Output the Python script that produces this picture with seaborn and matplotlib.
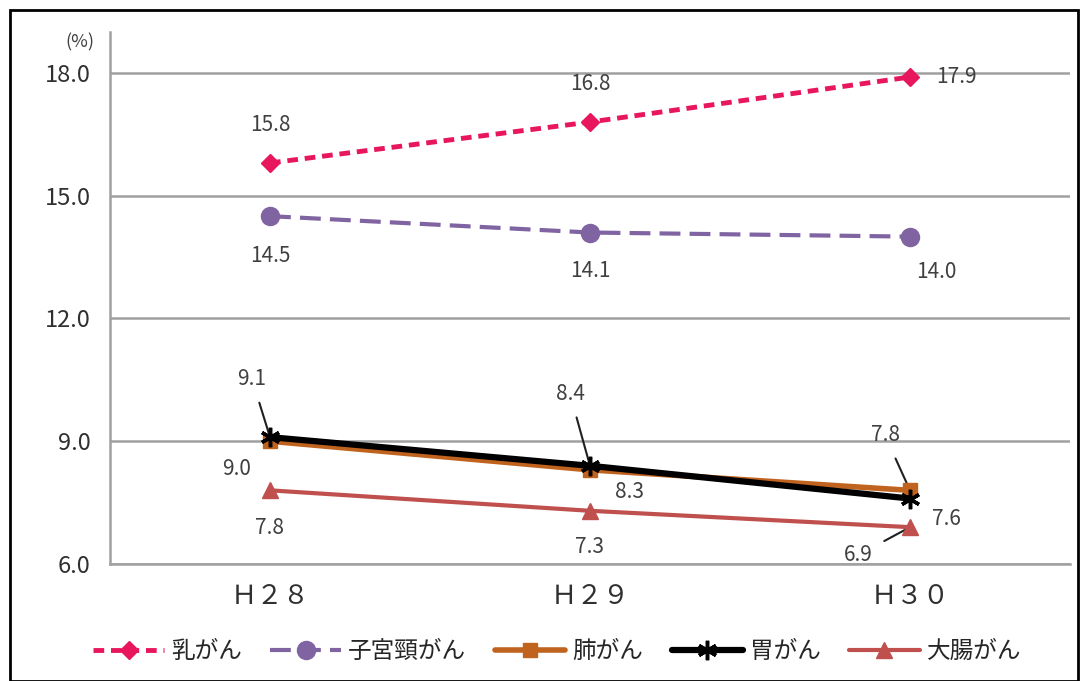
import numpy as np
import pandas as pd
import matplotlib.pyplot as plt
import seaborn as sb
from matplotlib.patches import Rectangle

sb.set_style('white')
plt.rcParams['font.family'] = ['Noto Sans CJK JP', 'DejaVu Sans']

# Data
years = ['Ｈ２８', 'Ｈ２９', 'Ｈ３０']
breast = [15.8, 16.8, 17.9]
cervix = [14.5, 14.1, 14.0]
lung = [9.0, 8.3, 7.8]
stomach = [9.1, 8.4, 7.6]
colon = [7.8, 7.3, 6.9]
names = ['乳がん', '子宮頸がん', '肺がん', '胃がん', '大腸がん']
yticks = [6.0, 9.0, 12.0, 15.0, 18.0]

series = [breast, cervix, lung, stomach, colon]
colors = ['#E8175D', '#8064A2', '#C0631E', '#000000', '#C0504D']
markers = ['D', 'o', 's', (6, 2, 0), '^']
msizes = [9, 13, 10, 14, 11]
widths = [3.5, 3.0, 4.0, 4.5, 3.0]
dashes = [(2.2, 1.4), (5, 2.2), '', '', '']

# label offsets in pixels (dx, dy) and whether a leader line is drawn
offsets = [
    [(0, 38, False), (0, 38, False), (46, 0, False)],
    [(0, -40, False), (0, -38, False), (26, -35, False)],
    [(-33, -28, False), (40, -22, False), (-25, 55, True)],
    [(-18, 58, True), (-20, 72, True), (36, -20, False)],
    [(0, -38, False), (0, -36, False), (-52, -28, True)],
]

fig = plt.figure(figsize=(10.82, 6.81), dpi=100)
ax = fig.add_axes([110/1082, 1-564/681, 960/1082, 532/681])

for i in range(len(series)):
    df = pd.DataFrame({'x': np.arange(3), 'y': series[i]})
    sb.lineplot(data=df, x='x', y='y', ax=ax, color=colors[i], lw=widths[i],
                marker=markers[i], markersize=msizes[i], markeredgecolor=colors[i],
                markeredgewidth=2.5 if i == 3 else 1, label=names[i], zorder=3+i)
    if dashes[i]:
        ax.lines[-1].set_dashes(dashes[i])
    for j, v in enumerate(series[i]):
        dx, dy, lead = offsets[i][j]
        ax.annotate(f'{v:.1f}', xy=(j, v), xytext=(dx, dy), textcoords='offset pixels',
                    ha='center', va='center', fontsize=15, color='#404040',
                    arrowprops=dict(arrowstyle='-', color='#202020', lw=1.5,
                                    shrinkA=7, shrinkB=2) if lead else None)

ax.set_xlim(-0.5, 2.5)
ax.set_ylim(6, 19)
ax.set_xticks(range(3))
ax.set_xticklabels(years, fontsize=19, color='#303030')
ax.set_xticks([-0.5, 0.5, 1.5, 2.5], minor=True)
ax.tick_params(axis='x', which='major', length=0, pad=14)
ax.tick_params(axis='x', which='minor', length=5, color='#909090', width=1.5)
ax.set_yticks(yticks)
ax.set_yticklabels([f'{t:.1f}' for t in yticks], fontsize=17, color='#303030')
ax.tick_params(axis='y', length=6, color='#909090', width=1.5, pad=8)
ax.grid(axis='y', color='#A0A0A0', lw=1.8)
ax.set_axisbelow(True)
ax.set_xlabel('')
ax.set_ylabel('')
for s in ['top', 'right']:
    ax.spines[s].set_visible(False)
for s in ['left', 'bottom']:
    ax.spines[s].set_color('#A0A0A0')
    ax.spines[s].set_linewidth(1.8)
ax.text(-0.031, 0.981, '(%)', transform=ax.transAxes, fontsize=13, color='#404040',
        ha='center', va='center')

handles, labels = ax.get_legend_handles_labels()
ax.legend_.remove()
fig.legend(handles, labels, loc='center', bbox_to_anchor=(0.515, 0.043), ncol=5,
           frameon=False, fontsize=17, handlelength=3.0, handletextpad=0.3,
           columnspacing=1.2)

fig.patches.append(Rectangle((10/1082, 0), 1068/1082, 1-10/681, transform=fig.transFigure,
                             fill=False, edgecolor='black', lw=2))

fig.savefig('out.png', dpi=100)
